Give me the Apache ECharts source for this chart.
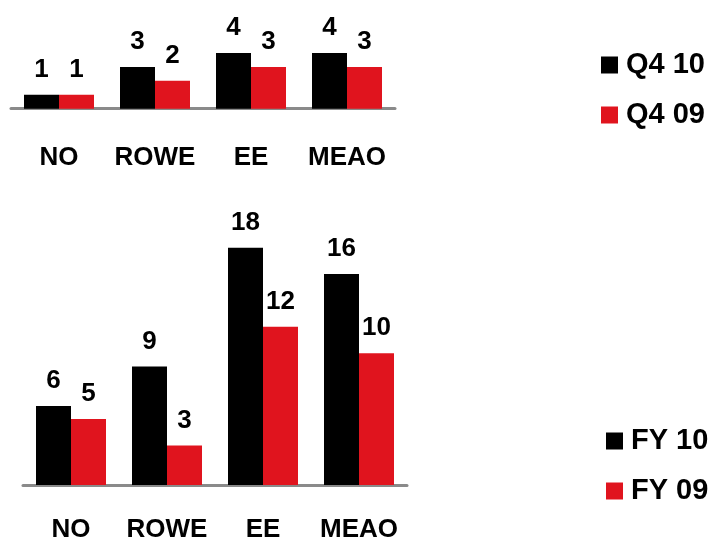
<!DOCTYPE html>
<html>
<head>
<meta charset="utf-8">
<script src="https://cdn.jsdelivr.net/npm/echarts@6/dist/echarts.min.js"></script>
<style>
  html, body { margin: 0; padding: 0; background: #fff; }
  #chart { width: 716px; height: 544px; }
</style>
</head>
<body>
<div id="chart"></div>
<script>
// Regions shown on both panels
const categories = ['NO', 'ROWE', 'EE', 'MEAO'];

// Quarter panel (top)
const q4Names = ['Q4 10', 'Q4 09'];
const q4_10 = [1, 3, 4, 4];
const q4_09 = [1, 2, 3, 3];

// Full-year panel (bottom)
const fyNames = ['FY 10', 'FY 09'];
const fy_10 = [6, 9, 18, 16];
const fy_09 = [5, 3, 12, 10];

const BLACK = '#000000';
const RED = '#e0141e';
const FONT = "'Liberation Sans', Arial, sans-serif";

function barSeries(name, data, color, axisIndex) {
  return {
    name: name,
    type: 'bar',
    xAxisIndex: axisIndex,
    yAxisIndex: axisIndex,
    data: data,
    barWidth: 35,
    barGap: '0%',
    itemStyle: { color: color },
    label: {
      show: true,
      position: 'top',
      distance: 12,
      color: '#000',
      fontFamily: FONT,
      fontWeight: 'bold',
      fontSize: 26
    }
  };
}

function catAxis(gridIndex, margin) {
  return {
    type: 'category',
    gridIndex: gridIndex,
    data: categories,
    axisTick: { show: false },
    axisLine: { show: true, lineStyle: { color: '#8a8a8a', width: 3 } },
    axisLabel: {
      interval: 0,
      margin: margin,
      color: '#000',
      fontFamily: FONT,
      fontWeight: 'bold',
      fontSize: 26
    }
  };
}

function valAxis(gridIndex, max) {
  return {
    type: 'value',
    gridIndex: gridIndex,
    min: 0,
    max: max,
    show: false,
    splitLine: { show: false }
  };
}

function legend(names, top, left) {
  return {
    data: names,
    orient: 'vertical',
    left: left,
    top: top,
    padding: 0,
    icon: 'rect',
    itemWidth: 17,
    itemHeight: 17,
    itemGap: 20,
    textStyle: {
      color: '#000',
      fontFamily: FONT,
      fontWeight: 'bold',
      fontSize: 29,
      lineHeight: 30,
      padding: [0, 0, 0, 3]
    }
  };
}

const chart = echarts.init(document.getElementById('chart'), null, { renderer: 'canvas' });
chart.setOption({
  animation: false,
  backgroundColor: '#ffffff',
  grid: [
    { left: 11, width: 384, top: 39, bottom: 435.3 },
    { left: 23, width: 384, top: 221.4, bottom: 59 }
  ],
  xAxis: [catAxis(0, 36), catAxis(1, 32)],
  yAxis: [valAxis(0, 5), valAxis(1, 20)],
  legend: [legend(q4Names, 50, 601), legend(fyNames, 426, 606)],
  series: [
    barSeries(q4Names[0], q4_10, BLACK, 0),
    barSeries(q4Names[1], q4_09, RED, 0),
    barSeries(fyNames[0], fy_10, BLACK, 1),
    barSeries(fyNames[1], fy_09, RED, 1)
  ]
});
</script>
</body>
</html>
